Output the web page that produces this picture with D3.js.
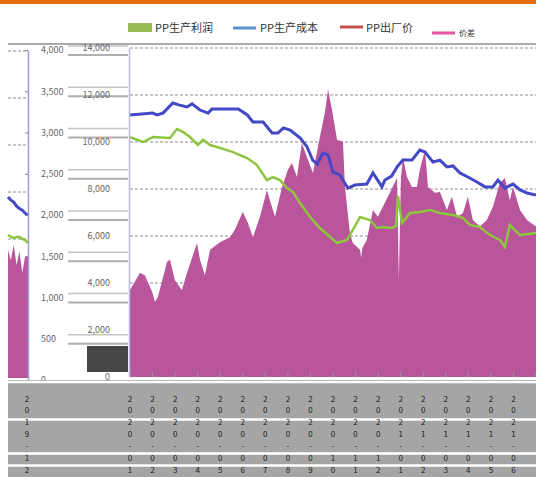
<!DOCTYPE html>
<html>
<head>
<meta charset="utf-8">
<script src="https://cdn.jsdelivr.net/npm/d3@7/dist/d3.min.js"></script>
<style>
  body { margin: 0; background: #fff; }
  text { font-family: "Noto Sans CJK SC", "Noto Sans", sans-serif; }
</style>
</head>
<body>
<svg id="chart"></svg>
<script>
// legend + axis labels
const legendNames = ["PP生产利润", "PP生产成本", "PP出厂价", "价差"];
const priceTicks = [0, 2000, 4000, 6000, 8000, 10000, 12000, 14000];
const profitTicks = [0, 500, 1000, 1500, 2000, 2500, 3000, 3500, 4000];
const monthLabels = ["2020-01","2020-02","2020-03","2020-04","2020-05","2020-06","2020-07","2020-08","2020-09","2020-10",
  "2020-11","2020-12","2021-01","2021-02","2021-03","2021-04","2021-05","2021-06"];
const fragLabels = ["2019-12"];

// main series, t = months from 2020-01
const costT = [0,1.0,1.2,1.46,1.9,2.2,2.53,2.75,3.1,3.46,3.63,4.8,5.2,5.45,5.9,6.3,6.56,6.8,7.1,7.55,7.85,8.1,8.3,8.55,8.78,9.0,9.3,9.66,9.97,10.5,10.77,11.17,11.3,11.6,11.84,12.1,12.5,12.85,13.08,13.43,13.74,14.05,14.32,14.63,14.98,15.38,15.74,16.09,16.31,16.62,16.98,17.29,17.6,18];
const costV = [11150,11230,11150,11230,11660,11570,11490,11620,11360,11230,11400,11400,11150,10850,10850,10380,10380,10600,10510,10170,9790,9230,9060,9530,9450,8720,8600,8040,8170,8210,8680,8090,8380,8550,8940,9230,9230,9660,9570,9150,9230,8940,8980,8680,8510,8300,8090,8090,8380,8040,8210,7960,7830,7740];

const priceT = [0,0.58,1.02,1.77,2.08,2.35,2.66,3.01,3.24,3.55,3.99,4.57,5.19,5.63,6.07,6.34,6.65,6.96,7.23,7.54,7.98,8.42,8.87,9.18,9.62,9.88,10.2,10.64,10.95,11.21,11.61,11.79,11.88,12.06,12.41,12.85,13.3,13.74,14.32,14.76,15.07,15.51,15.96,16.4,16.62,16.84,17.29,18];
const priceV = [10210,10000,10210,10170,10550,10430,10210,9870,10090,9870,9750,9570,9320,9020,8380,8510,8380,8040,7870,7400,6810,6340,5960,5700,5830,6260,6810,6680,6340,6380,6340,6430,7700,6550,6980,7020,7110,6980,6890,6770,6470,6380,6040,5830,5530,6470,6040,6130];

const profitT = [0,0.44,0.66,0.98,1.11,1.24,1.64,1.77,1.99,2.3,2.53,2.97,3.1,3.32,3.55,3.99,4.43,4.65,5.0,5.23,5.45,5.76,6.07,6.29,6.43,6.74,7.0,7.18,7.4,7.62,7.85,8.11,8.42,8.64,8.78,8.96,9.18,9.44,9.53,9.75,9.88,10.2,10.25,10.3,10.5,10.77,10.99,11.21,11.52,11.84,11.92,12.01,12.1,12.28,12.5,12.72,12.85,13.08,13.21,13.52,13.74,14.05,14.27,14.5,14.76,14.98,15.2,15.51,15.82,16.09,16.4,16.62,16.84,16.98,17.29,17.6,18];
const profitV = [1090,1300,1270,1070,950,1010,1430,1460,1210,1090,1300,1660,1460,1270,1580,1670,1730,1820,2040,1900,1730,1980,2300,2100,1980,2340,2550,2630,2460,2870,2700,2510,2950,3240,3520,3270,2910,2890,2340,1780,1660,1580,1480,1600,1700,2060,1980,2100,2270,2450,1210,2450,2700,2460,2340,2340,2550,2790,2340,2270,2280,2060,2220,1980,2020,2220,1940,1860,1940,2100,2390,2450,2180,2340,2060,1940,1860];

// cropped left fragment
const fragT = [0,1,2,3,4,5,6,7];
const fragCost = [7790,7650,7570,7400,7300,7230,7100,7020];
const fragPrice = [6170,6100,6040,6090,6090,6000,5950,5830];
const fragProfit = [1580,1450,1640,1390,1560,1300,1500,1490];

const W = 536, H = 477;
const svg = d3.select("#chart").attr("width", W).attr("height", H);

// scales
const x = d3.scaleLinear().domain([0, 18]).range([130, 536]);
const yMain = d3.scaleLinear().domain([0, 14000]).range([377, 48]);
const yProfit = d3.scaleLinear().domain([0, 4000]).range([380, 50]);
const xf = d3.scaleLinear().domain([0, 7]).range([8, 28]);
const yFrag = d3.scaleLinear().domain([0, 14000]).range([380, 51]);

// orange header bar
svg.append("rect").attr("x", 0).attr("y", 0).attr("width", W).attr("height", 4).attr("fill", "#E46C0A");

// legend
const lg = svg.append("g").attr("class", "legend").style("font-size", "11px").attr("fill", "#333");
lg.append("rect").attr("x", 128).attr("y", 23).attr("width", 24).attr("height", 9).attr("fill", "#9BBB59");
lg.append("text").attr("x", 155).attr("y", 32).text(legendNames[0]);
lg.append("line").attr("x1", 233).attr("x2", 256).attr("y1", 28).attr("y2", 28).attr("stroke", "#5B8FD0").attr("stroke-width", 3);
lg.append("text").attr("x", 260).attr("y", 32).text(legendNames[1]);
lg.append("line").attr("x1", 340).attr("x2", 363).attr("y1", 27).attr("y2", 27).attr("stroke", "#C0504D").attr("stroke-width", 3);
lg.append("text").attr("x", 366).attr("y", 32).text(legendNames[2]);
lg.append("line").attr("x1", 432).attr("x2", 455).attr("y1", 33).attr("y2", 33).attr("stroke", "#E8559E").attr("stroke-width", 3);
lg.append("text").attr("x", 459).attr("y", 36).style("font-size", "8px").text(legendNames[3]);

// top gray rule
svg.append("line").attr("x1", 8).attr("x2", W).attr("y1", 44).attr("y2", 44).attr("stroke", "#aaa").attr("stroke-width", 2);

// ---- left fragment ----
const frag = svg.append("g").attr("class", "frag");
frag.selectAll(".fgrid").data(priceTicks.filter(d => d > 0)).join("line")
  .attr("x1", 8).attr("x2", 26)
  .attr("y1", d => yFrag(d)).attr("y2", d => yFrag(d))
  .attr("stroke", "#8c8c8c").attr("stroke-dasharray", "3,2");
frag.append("path")
  .datum(fragT.map((t, i) => [t, fragProfit[i]]))
  .attr("fill", "#B9559A")
  .attr("d", d3.area().x(d => xf(d[0])).y0(yProfit(0) - 2).y1(d => yProfit(d[1])));
frag.append("path")
  .datum(fragT.map((t, i) => [t, fragPrice[i]]))
  .attr("fill", "none").attr("stroke", "#8CC63E").attr("stroke-width", 2.5)
  .attr("d", d3.line().x(d => xf(d[0])).y(d => yFrag(d[1])));
frag.append("path")
  .datum(fragT.map((t, i) => [t, fragCost[i]]))
  .attr("fill", "none").attr("stroke", "#4348C4").attr("stroke-width", 3)
  .attr("d", d3.line().x(d => xf(d[0])).y(d => yFrag(d[1])));

// fragment's right axis (profit)
const fragAxis = svg.append("g")
  .attr("transform", "translate(28,0)")
  .call(d3.axisRight(yProfit).tickValues(profitTicks).tickSizeInner(-3).tickSizeOuter(0).tickPadding(13))
  .style("font-size", "9px");
fragAxis.select(".domain").attr("stroke", "#9d9de0").attr("stroke-width", 1.5);
fragAxis.selectAll(".tick line").attr("stroke", "#888");
fragAxis.selectAll(".tick text").attr("fill", "#666");

// gray rules beside the profit labels
svg.selectAll(".prule").data(profitTicks.filter(d => d > 0)).join("line")
  .attr("class", "prule")
  .attr("x1", 68).attr("x2", 128)
  .attr("y1", d => yProfit(d) + 5).attr("y2", d => yProfit(d) + 5)
  .attr("stroke", "#b0b0b0").attr("stroke-width", 2);
svg.selectAll(".prule2").data(profitTicks.filter(d => d > 0)).join("line")
  .attr("class", "prule2")
  .attr("x1", 68).attr("x2", 128)
  .attr("y1", d => yProfit(d) - 4).attr("y2", d => yProfit(d) - 4)
  .attr("stroke", "#c4c4c4").attr("stroke-width", 1.5);

// dark block
svg.append("rect").attr("x", 87).attr("y", 346).attr("width", 41).attr("height", 26).attr("fill", "#474747");

// ---- main plot ----
svg.append("clipPath").attr("id", "plotClip")
  .append("rect").attr("x", 130).attr("y", 40).attr("width", 406).attr("height", 337);

const chart = svg.append("g");

chart.selectAll(".grid").data(priceTicks.filter(d => d > 0)).join("line")
  .attr("class", "grid")
  .attr("x1", 130).attr("x2", W)
  .attr("y1", d => yMain(d)).attr("y2", d => yMain(d))
  .attr("stroke", "#8c8c8c").attr("stroke-dasharray", "3,2");

chart.append("path")
  .datum(profitT.map((t, i) => [t, profitV[i]]))
  .attr("clip-path", "url(#plotClip)")
  .attr("fill", "#B9559A")
  .attr("d", d3.area().x(d => x(d[0])).y0(yProfit(0)).y1(d => yProfit(d[1])));

chart.append("path")
  .datum(priceT.map((t, i) => [t, priceV[i]]))
  .attr("clip-path", "url(#plotClip)")
  .attr("fill", "none").attr("stroke", "#8CC63E").attr("stroke-width", 2.5)
  .attr("d", d3.line().x(d => x(d[0])).y(d => yMain(d[1])));

chart.append("path")
  .datum(costT.map((t, i) => [t, costV[i]]))
  .attr("clip-path", "url(#plotClip)")
  .attr("fill", "none").attr("stroke", "#4348C4").attr("stroke-width", 3)
  .attr("d", d3.line().x(d => x(d[0])).y(d => yMain(d[1])));

// main left axis
const yAxisG = svg.append("g")
  .attr("transform", "translate(129,0)")
  .call(d3.axisLeft(yMain).tickValues(priceTicks).tickSize(0).tickPadding(19))
  .style("font-size", "9px");
yAxisG.select(".domain").attr("stroke", "#b8b8e8").attr("stroke-width", 1.5);
yAxisG.selectAll(".tick text").attr("fill", "#666");

// month tick marks
chart.selectAll(".xtick").data(d3.range(monthLabels.length + 1)).join("line")
  .attr("class", "xtick")
  .attr("x1", d => x(d)).attr("x2", d => x(d))
  .attr("y1", 372).attr("y2", 377)
  .attr("stroke", "#999");

// ---- bottom label band ----
svg.append("rect").attr("x", 8).attr("y", 380).attr("width", W - 8).attr("height", H - 380).attr("fill", "#a5a5a5");
[382, 419.5, 453.5, 465.5].forEach(yy => {
  svg.append("line").attr("x1", 8).attr("x2", W).attr("y1", yy).attr("y2", yy)
    .attr("stroke", "#fff").attr("stroke-width", 2.5);
});

const rowsY = [402, 413, 425, 437, 449, 461, 473];
function stackLabel(g, cx, label) {
  const t = g.append("text").attr("text-anchor", "middle").style("font-size", "8px").attr("fill", "#1a1a1a");
  label.split("").forEach((ch, i) => {
    t.append("tspan").attr("x", cx).attr("y", rowsY[i]).text(ch);
  });
}
const xl = svg.append("g").attr("class", "xlabels");
monthLabels.forEach((lab, i) => stackLabel(xl, x(i), lab));
fragLabels.forEach(lab => stackLabel(xl, 27, lab));
</script>
</body>
</html>
